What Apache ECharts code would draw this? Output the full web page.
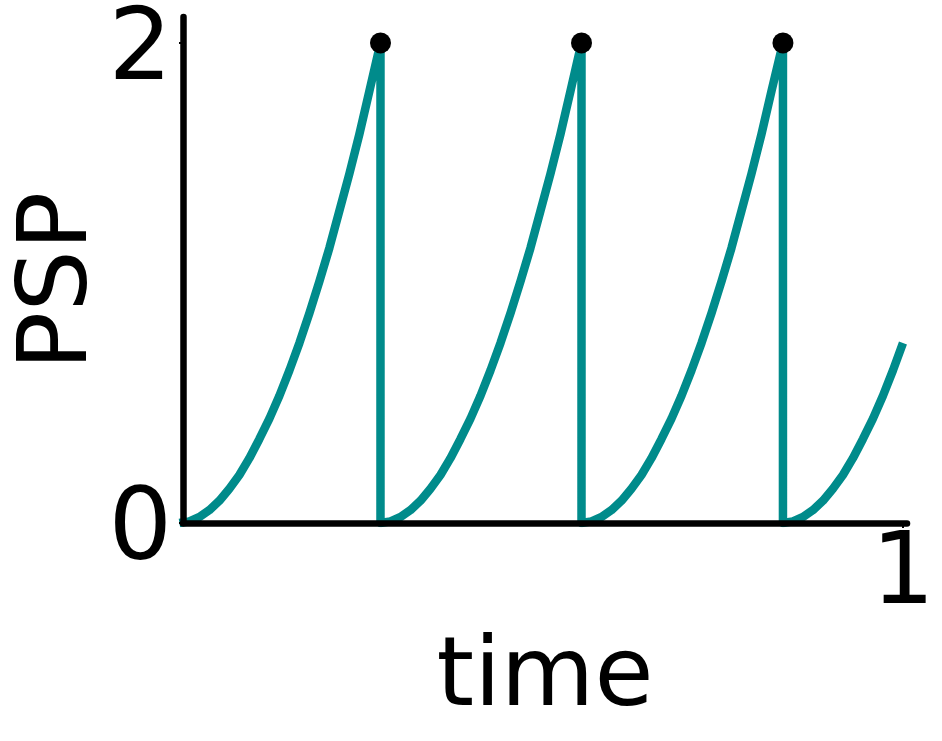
<!DOCTYPE html>
<html>
<head>
<meta charset="utf-8">
<script src="https://cdn.jsdelivr.net/npm/echarts@6/dist/echarts.min.js"></script>
<style>
  html, body { margin: 0; padding: 0; background: #fff; }
  #chart { width: 942px; height: 741px; }
</style>
</head>
<body>
<div id="chart"></div>
<script>
// shape of one rise: time since reset -> PSP
const riseDt = [
  0, 0.0139, 0.0278, 0.0417, 0.0556, 0.0694, 0.0833, 0.0972, 0.1111, 0.125, 0.1389,
  0.1528, 0.1667, 0.1806, 0.1944, 0.2083, 0.2222, 0.2361, 0.25, 0.2639
];
const risePsp = [
  0, 0.007, 0.025, 0.054, 0.093, 0.143, 0.2, 0.27, 0.35, 0.435, 0.53,
  0.636, 0.75, 0.874, 1.006, 1.146, 1.3, 1.455, 1.62, 1.8
];
// reset times and spike times (threshold crossings)
const resetTimes = [-0.005, 0.2743, 0.5535, 0.8333];
const spikeTimes = [0.2743, 0.5535, 0.8333];
const threshold = 2;
const endTime = 1.0;
const xTicks = [1];
const yTicks = [0, 2];

const traceColor = "#008b8b";
const font = "DejaVu Sans";

// build the trace: rise, spike to threshold, drop to zero
const trace = [];
resetTimes.forEach((r, k) => {
  riseDt.forEach((d, i) => {
    const t = r + d;
    if (t <= endTime + 1e-4 && (k >= spikeTimes.length || t < spikeTimes[k])) {
      trace.push([t, risePsp[i]]);
    }
  });
  if (k < spikeTimes.length) {
    trace.push([spikeTimes[k], threshold]);
    trace.push([spikeTimes[k], 0]);
  }
});

const chart = echarts.init(document.getElementById("chart"));

const option = {
  animation: false,
  backgroundColor: "#fff",
  grid: { left: 183, right: 35, top: 17, bottom: 218, outerBoundsMode: "none", containLabel: false },
  // y axis title, rotated like matplotlib's ylabel
  graphic: [{
    type: "text",
    x: 61,
    y: 281,
    rotation: Math.PI / 2,
    style: {
      text: "PSP",
      fontFamily: font,
      fontSize: 97,
      fill: "#000",
      align: "center",
      verticalAlign: "middle"
    }
  }],
  xAxis: {
    type: "value",
    min: 0,
    max: 1.0056,
    z: 5,
    name: "time",
    nameLocation: "middle",
    nameGap: 108,
    nameTextStyle: { fontFamily: font, fontSize: 96, color: "#000" },
    axisLine: { lineStyle: { color: "#000", width: 6.5 } },
    axisTick: { customValues: xTicks, length: 5, lineStyle: { color: "#000", width: 2 } },
    axisLabel: {
      customValues: xTicks,
      margin: 4,
      fontFamily: font,
      fontSize: 100,
      color: "#000"
    },
    splitLine: { show: false }
  },
  yAxis: {
    type: "value",
    min: 0,
    max: 2.108,
    z: 5,
    axisLine: { lineStyle: { color: "#000", width: 6.5 } },
    axisTick: { customValues: yTicks, length: 4, lineStyle: { color: "#000", width: 2 } },
    axisLabel: {
      customValues: yTicks,
      margin: 11,
      formatter: "{v|{value}}",
      rich: {
        v: { fontFamily: font, fontSize: 100, color: "#000", padding: [20, 0, 0, 0] }
      }
    },
    splitLine: { show: false }
  },
  series: [
    {
      type: "line",
      data: trace,
      showSymbol: false,
      clip: true,
      lineStyle: { color: traceColor, width: 8.5, join: "round", cap: "butt" },
      z: 2
    },
    {
      type: "scatter",
      data: spikeTimes.map(t => [t, threshold]),
      symbolSize: 21,
      itemStyle: { color: "#000", opacity: 1 },
      z: 10
    }
  ]
};

chart.setOption(option);
</script>
</body>
</html>
